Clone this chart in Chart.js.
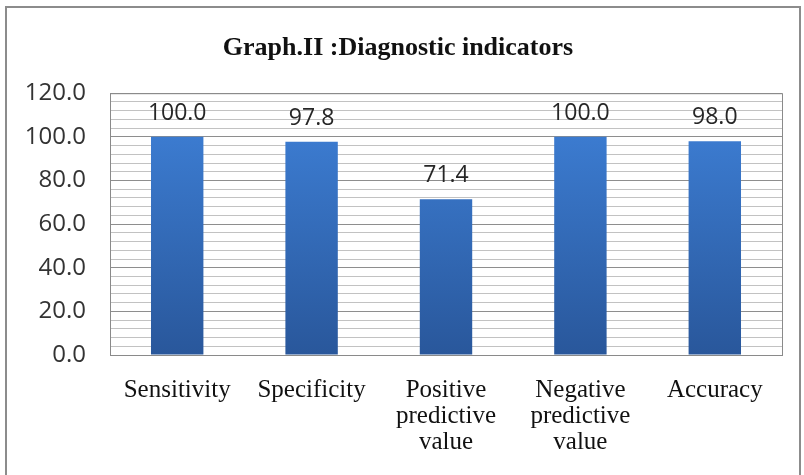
<!DOCTYPE html>
<html>
<head>
<meta charset="utf-8">
<script src="https://cdn.jsdelivr.net/npm/chart.js@4/dist/chart.umd.min.js"></script>
<style>
  html, body { margin: 0; padding: 0; background: #fff; }
  #wrap { width: 804px; height: 475px; }
</style>
</head>
<body>
<div id="wrap"><canvas id="chart1"></canvas></div>
<script>
document.addEventListener('DOMContentLoaded', () => {

    // Data
    const categories = [
        'Sensitivity',
        'Specificity',
        ['Positive', 'predictive', 'value'],
        ['Negative', 'predictive', 'value'],
        'Accuracy'
    ];
    const indicatorValues = [100.0, 97.8, 71.4, 100.0, 98.0];
    const yMin = 0;
    const yMax = 120;
    const yMajorStep = 20;
    const yMinorStep = 4;

    const sansFont = "'Open Sans', 'Liberation Sans', sans-serif";
    const serifFont = "'Liberation Serif', 'DejaVu Serif', serif";

    // Outer frame + plot area outline
    const framePlugin = {
        id: 'frame',
        beforeDraw(chart) {
            const ctx = chart.ctx;
            ctx.save();
            ctx.fillStyle = '#ffffff';
            ctx.fillRect(0, 0, chart.width, chart.height);
            ctx.strokeStyle = '#8c8c8c';
            ctx.lineWidth = 2;
            ctx.strokeRect(6, 7, chart.width - 10, chart.height + 10);
            ctx.restore();
        },
        afterDatasetsDraw(chart) {
            const a = chart.chartArea;
            const ctx = chart.ctx;
            ctx.save();
            ctx.strokeStyle = '#8a8a8a';
            ctx.lineWidth = 1;
            ctx.strokeRect(a.left + 0.5, a.top + 0.5, a.right - a.left, a.bottom - a.top);
            ctx.restore();
        }
    };

    // Value labels above each bar
    const valueLabels = {
        id: 'valueLabels',
        afterDatasetsDraw(chart) {
            const ctx = chart.ctx;
            const meta = chart.getDatasetMeta(0);
            ctx.save();
            ctx.font = '23px ' + sansFont;
            ctx.fillStyle = '#262626';
            ctx.textAlign = 'center';
            ctx.textBaseline = 'bottom';
            meta.data.forEach((bar, i) => {
                ctx.fillText(indicatorValues[i].toFixed(1), bar.x, bar.y - 12);
            });
            ctx.restore();
        }
    };

    const ctx1 = document.getElementById('chart1').getContext('2d');
    new Chart(ctx1, {
        type: 'bar',
        data: {
            labels: categories,
            datasets: [{
                data: indicatorValues,
                backgroundColor: (c) => {
                    const area = c.chart.chartArea;
                    if (!area) return '#3470c0';
                    const g = c.chart.ctx.createLinearGradient(0, area.top, 0, area.bottom);
                    g.addColorStop(0, '#3f82da');
                    g.addColorStop(1, '#29579b');
                    return g;
                },
                borderWidth: 0,
                categoryPercentage: 1.0,
                barPercentage: 0.39
            }]
        },
        options: {
            responsive: true,
            maintainAspectRatio: false,
            animation: false,
            layout: { padding: { left: 14, right: 22, top: 8, bottom: 20 } },
            plugins: {
                legend: { display: false },
                tooltip: { enabled: false },
                title: {
                    display: true,
                    text: 'Graph.II :Diagnostic indicators',
                    color: '#111',
                    font: { family: serifFont, size: 26, weight: 'bold', lineHeight: 1.2 },
                    padding: { top: 25, bottom: 29 }
                }
            },
            scales: {
                x: {
                    afterFit: (s) => { s.height = 100; },
                    grid: { display: false },
                    border: { display: false },
                    ticks: {
                        color: '#111',
                        font: { family: serifFont, size: 25, lineHeight: 1.05 },
                        padding: 14,
                        maxRotation: 0,
                        autoSkip: false
                    }
                },
                y: {
                    min: yMin,
                    max: yMax,
                    afterFit: (s) => { s.width = 96; },
                    border: { display: false },
                    grid: {
                        drawTicks: false,
                        color: (c) => (c.tick && c.tick.value % yMajorStep === 0) ? '#8e8e8e' : '#c2c2c2',
                        lineWidth: 1
                    },
                    ticks: {
                        stepSize: yMinorStep,
                        autoSkip: false,
                        color: '#333',
                        font: { family: sansFont, size: 24 },
                        padding: 24,
                        callback: (v) => (v % yMajorStep === 0) ? v.toFixed(1) : ''
                    }
                }
            }
        },
        plugins: [framePlugin, valueLabels]
    });

});
</script>
</body>
</html>
